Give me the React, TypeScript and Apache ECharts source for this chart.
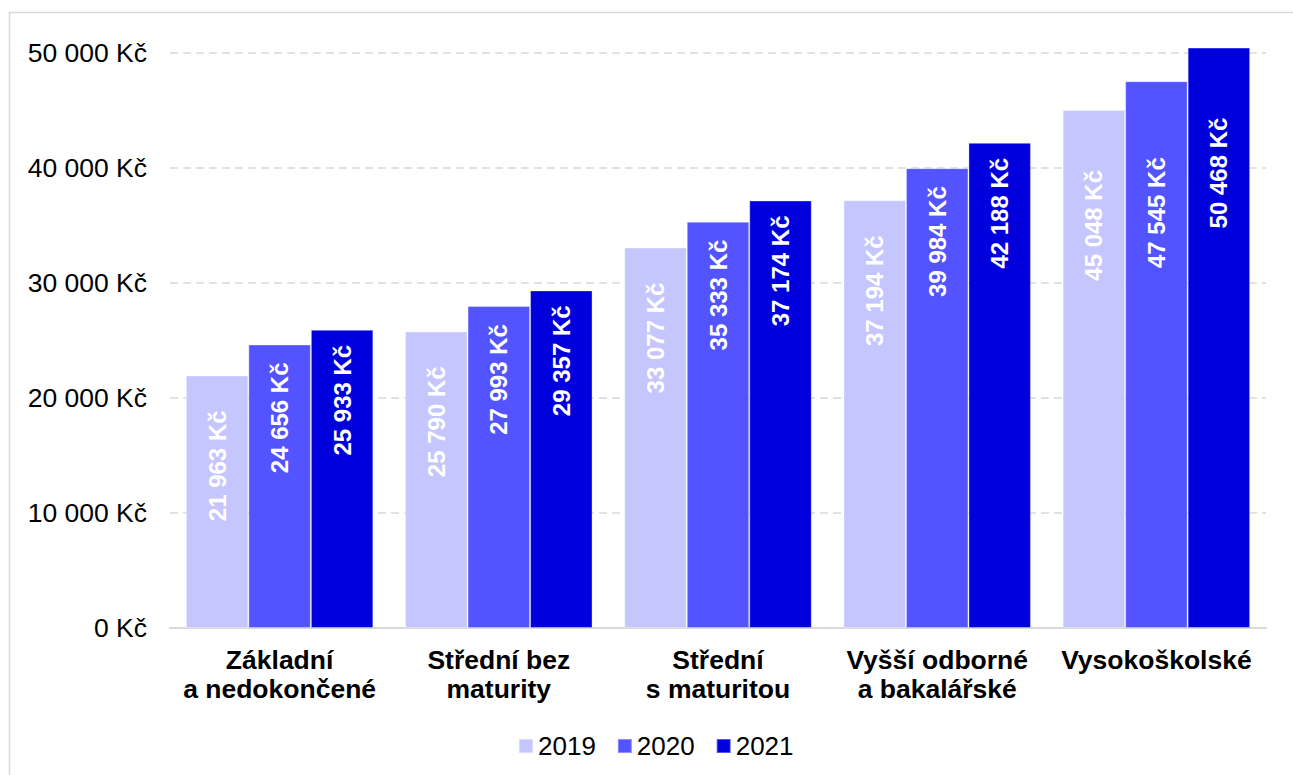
import React, { useEffect, useRef } from "react";
import * as echarts from "echarts";

const categories = [
  "Základní\na nedokončené",
  "Střední bez\nmaturity",
  "Střední\ns maturitou",
  "Vyšší odborné\na bakalářské",
  "Vysokoškolské",
];
const years = ["2019", "2020", "2021"];
const values2019 = [21963, 25790, 33077, 37194, 45048];
const values2020 = [24656, 27993, 35333, 39984, 47545];
const values2021 = [25933, 29357, 37174, 42188, 50468];
const yTicks = [0, 10000, 20000, 30000, 40000, 50000];

const FONT = "'Liberation Sans', Arial, sans-serif";
const colors = ["#C6C6FF", "#5353FF", "#0000DC"];

const fmt = (v: number) =>
  String(Math.round(v)).replace(/\B(?=(\d{3})+(?!\d))/g, " ") + " Kč";

export default function App() {
  const ref = useRef<HTMLDivElement>(null);
  useEffect(() => {
    if (!ref.current) return;
    const chart = echarts.init(ref.current, null, { renderer: "svg" });
    const allValues = [values2019, values2020, values2021];
    const baseDist = [35, 18, 15];
    const lastDist = [60, 76, 70];
    const series = years.map((y, si) => ({
      name: y,
      type: "bar",
      barWidth: 62.5,
      barGap: "0%",
      clip: false,
      itemStyle: {
        color: colors[si],
        borderColor: "rgba(255,255,255,0.35)",
        borderWidth: 1,
      },
      label: {
        show: true,
        position: "insideTop",
        rotate: 90,
        align: "right",
        verticalAlign: "middle",
        distance: baseDist[si],
        color: "#ffffff",
        fontFamily: FONT,
        fontWeight: "bold",
        fontSize: 24,
        formatter: (p: any) => fmt(p.value),
      },
      data: allValues[si].map((v, ci) =>
        ci === allValues[si].length - 1
          ? { value: v, label: { distance: lastDist[si] } }
          : v
      ),
    }));
    chart.setOption({
      animation: false,
      backgroundColor: "#ffffff",
      grid: { left: 170, right: 27, top: 53, bottom: 147 },
      legend: {
        data: years,
        left: 513,
        top: 728,
        itemWidth: 14,
        itemHeight: 14,
        itemGap: 21,
        icon: "rect",
        textStyle: { fontFamily: FONT, fontSize: 26, color: "#000" },
      },
      graphic: [
        {
          type: "rect",
          shape: { x: 9.5, y: 12.5, width: 1400, height: 900 },
          style: { fill: "none", stroke: "#d9d9d9", lineWidth: 1.5 },
          silent: true,
        },
      ],
      xAxis: {
        type: "category",
        data: categories,
        axisLine: { lineStyle: { color: "#d9d9d9", width: 2 } },
        axisTick: { show: false },
        axisLabel: {
          interval: 0,
          margin: 17,
          fontFamily: FONT,
          fontWeight: "bold",
          fontSize: 26.5,
          lineHeight: 29,
          color: "#000",
          verticalAlign: "top",
        },
      },
      yAxis: {
        type: "value",
        min: yTicks[0],
        max: yTicks[yTicks.length - 1],
        interval: yTicks[1] - yTicks[0],
        axisLine: { show: false },
        axisTick: { show: false },
        splitLine: {
          lineStyle: { color: "#d9d9d9", width: 1.5, type: [8, 5] },
        },
        axisLabel: {
          margin: 23,
          fontFamily: FONT,
          fontSize: 26.5,
          color: "#000",
          formatter: (v: number) => fmt(v),
        },
      },
      series,
    });
    return () => chart.dispose();
  }, []);
  return (
    <div
      ref={ref}
      style={{ position: "fixed", left: 0, top: 0, width: 1293, height: 775 }}
    />
  );
}
